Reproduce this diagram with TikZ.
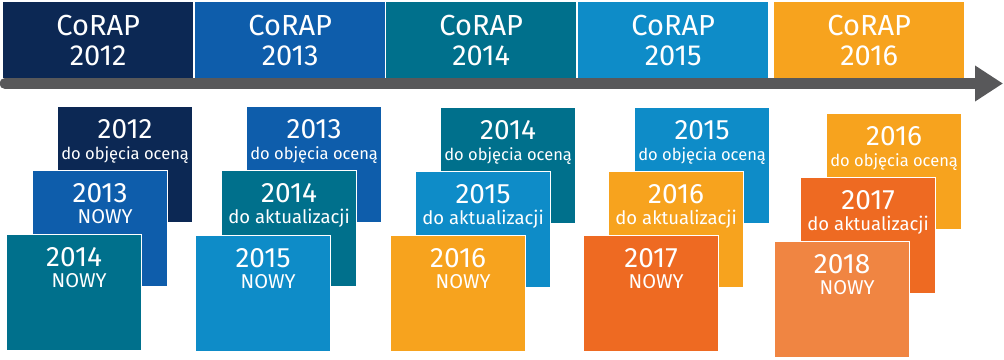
\documentclass[tikz,border=0pt]{standalone}
\usepackage{fontspec}
\setmainfont{Fira Sans}
\usetikzlibrary{arrows.meta,positioning}
\definecolor{crnavy}{RGB}{12,40,84}
\definecolor{crblue}{RGB}{14,93,171}
\definecolor{crteal}{RGB}{0,112,140}
\definecolor{crsky}{RGB}{14,140,200}
\definecolor{crorange}{RGB}{247,163,30}
\definecolor{crrust}{RGB}{238,106,34}
\definecolor{crpeach}{RGB}{240,133,66}
\definecolor{crgrey}{RGB}{88,88,90}
% one card: name, x, y, colour, year, line style, line text
\newcommand{\card}[7]{%
  \node[card,fill=#4] (#1) at (#2,#3) {};
  \node[yeartext] (#1-yr) at ([yshift=-32pt]#1.north) {#5};
  \node[#6] (#1-ln) at ([yshift=-53pt]#1.north) {#7};
}

\begin{document}
\begin{tikzpicture}[x=1pt,y=-1pt,>=Latex,
    phase/.style={anchor=north west,minimum width=190pt,minimum height=76pt,inner sep=0pt,
      align=center,text=white,font=\fontsize{29}{30}\selectfont},
    card/.style={anchor=north west,minimum width=135pt,minimum height=116pt,inner sep=0pt,
      draw=white,line width=1.2pt},
    yeartext/.style={anchor=base,inner sep=0pt,text=white,font=\fontsize{28}{30}\selectfont},
    subtext/.style={anchor=base,inner sep=0pt,text=white,font=\fontsize{16.5}{18}\selectfont},
    updtext/.style={subtext,font=\fontsize{18.5}{20}\selectfont},
    newtext/.style={subtext,xshift=5pt,font=\fontsize{20}{22}\selectfont}]
  \useasboundingbox (0,0) rectangle (1004,359);
  % CoRAP phases
  \node[phase,fill=crnavy] (p2012) at (3,2) {CoRAP\\2012};
  \node[phase,fill=crblue] (p2013) at (195,2) {CoRAP\\2013};
  \node[phase,fill=crteal] (p2014) at (386,2) {CoRAP\\2014};
  \node[phase,fill=crsky] (p2015) at (578,2) {CoRAP\\2015};
  \node[phase,fill=crorange] (p2016) at (774,2) {CoRAP\\2016};
  % timeline
  \coordinate (tl-start) at (5,83.5);
  \coordinate (tl-end) at (1003,83.5);
  \draw[crgrey,line width=11pt,line cap=round,-{Triangle[length=28pt,width=34pt]}] (tl-start) -- (tl-end);
  % 2012
  \card{c12a}{57}{106}{crnavy}{2012}{subtext}{do objęcia oceną}
  \card{c12b}{32}{170}{crblue}{2013}{newtext}{NOWY}
  \card{c12c}{6}{234}{crteal}{2014}{newtext}{NOWY}
  % 2013
  \card{c13a}{246}{106}{crblue}{2013}{subtext}{do objęcia oceną}
  \card{c13b}{221}{170}{crteal}{2014}{updtext}{do aktualizacji}
  \card{c13c}{195}{235}{crsky}{2015}{newtext}{NOWY}
  % 2014
  \card{c14a}{440}{107}{crteal}{2014}{subtext}{do objęcia oceną}
  \card{c14b}{415}{171}{crsky}{2015}{updtext}{do aktualizacji}
  \card{c14c}{390}{235}{crorange}{2016}{newtext}{NOWY}
  % 2015
  \card{c15a}{634}{107}{crsky}{2015}{subtext}{do objęcia oceną}
  \card{c15b}{608}{171}{crorange}{2016}{updtext}{do aktualizacji}
  \card{c15c}{583}{235}{crrust}{2017}{newtext}{NOWY}
  % 2016
  \card{c16a}{826}{113}{crorange}{2016}{subtext}{do objęcia oceną}
  \card{c16b}{800}{177}{crrust}{2017}{updtext}{do aktualizacji}
  \card{c16c}{774}{241}{crpeach}{2018}{newtext}{NOWY}
\end{tikzpicture}
\end{document}
